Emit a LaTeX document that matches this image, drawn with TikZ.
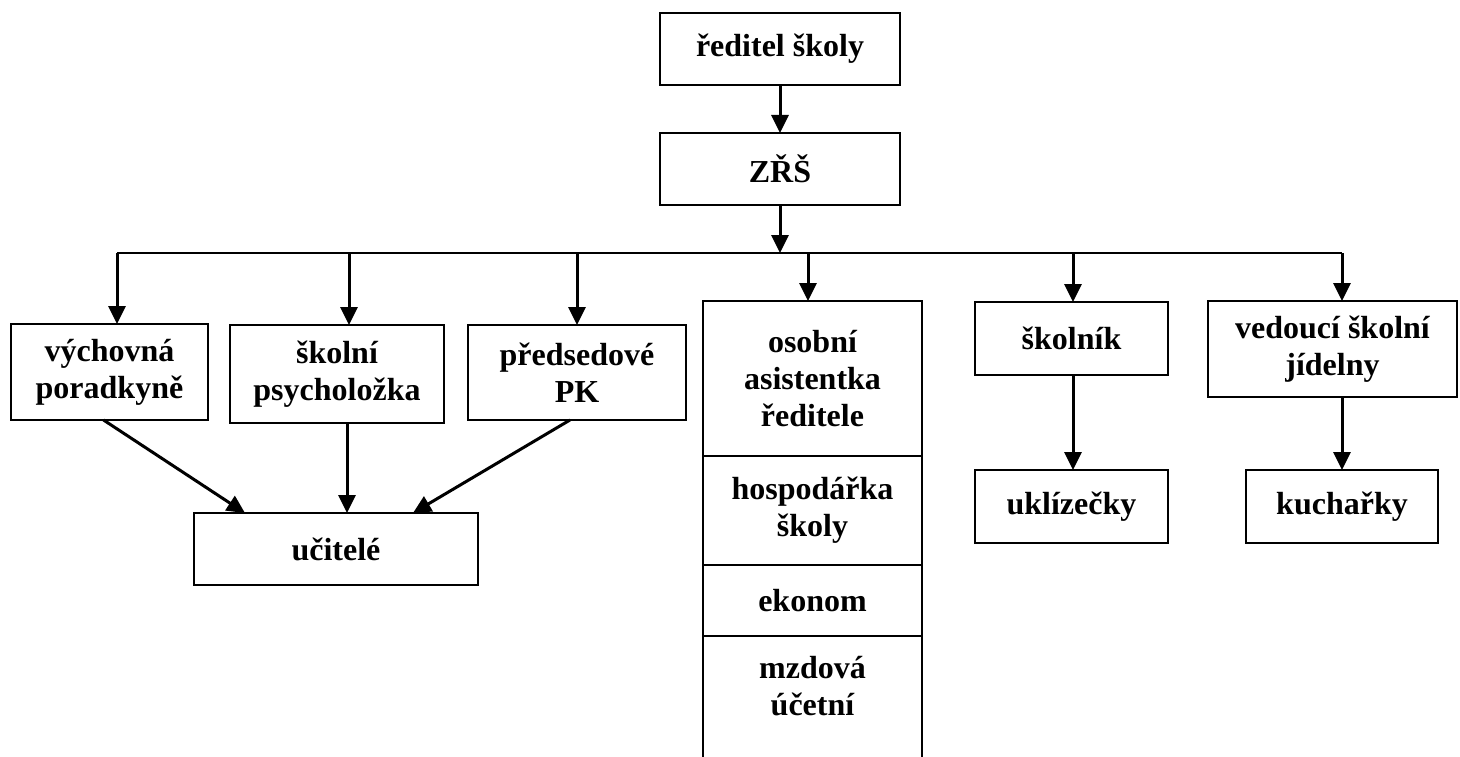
\documentclass[tikz,border=0pt]{standalone}
\usepackage{fontspec}
\setmainfont{Liberation Serif}
\usetikzlibrary{arrows.meta}
\begin{document}
\begin{tikzpicture}[x=1pt,y=-1pt,
  box/.style={draw,line width=2pt,inner sep=0pt,outer sep=0pt,align=center,
    font=\fontsize{32}{37}\selectfont\bfseries},
  lbl/.style={inner sep=0pt,align=center,font=\fontsize{32}{37}\selectfont\bfseries},
  arr/.style={line width=3pt,-{Triangle[length=18pt,width=17pt]}},
  bus/.style={line width=2.2pt}]
\useasboundingbox (0,0) rectangle (1460,757);
% boxes
\node[box,minimum width=240pt,minimum height=72pt] (dir) at (780,49) {ředitel školy};
\node[box,minimum width=240pt,minimum height=72pt] (zrs) at (780,169) {ZŘŠ};
\node[box,minimum width=197pt,minimum height=96pt] (vych) at (109.5,372) {výchovná\\poradkyně};
\node[box,minimum width=214pt,minimum height=98pt] (psych) at (337,374) {školní\\psycholožka};
\node[box,minimum width=218pt,minimum height=95pt] (pk) at (577,372.5) {předsedové\\PK};
\node[box,minimum width=219pt,minimum height=155pt] (osob) at (812.5,378.5) {osobní\\asistentka\\ředitele};
\node[box,minimum width=219pt,minimum height=109pt] (hosp) at (812.5,510.5) {hospodářka\\školy};
\node[box,minimum width=219pt,minimum height=71pt] (ekon) at (812.5,600.5) {ekonom};
\node[lbl] (mzd) at (812.5,686) {mzdová\\účetní};
\coordinate (mzdL) at (703,760);
\coordinate (mzdR) at (922,760);
\draw[line width=2pt] (mzdL) -- (ekon.south west) (ekon.south east) -- (mzdR);
\node[box,minimum width=193pt,minimum height=73pt] (skoln) at (1071.5,338.5) {školník};
\node[box,minimum width=193pt,minimum height=73pt] (ukl) at (1071.5,506.5) {uklízečky};
\node[box,minimum width=249pt,minimum height=96pt] (ved) at (1332.5,349) {vedoucí školní\\jídelny};
\node[box,minimum width=192pt,minimum height=73pt] (kuch) at (1342,506.5) {kuchařky};
\node[box,minimum width=284pt,minimum height=72pt] (ucit) at (336,549) {učitelé};
% bus
\coordinate (b0) at (780,253);
\coordinate (t1) at (117,253);
\coordinate (t2) at (349,253);
\coordinate (t3) at (577,253);
\coordinate (t4) at (808,253);
\coordinate (t5) at (1073,253);
\coordinate (t6) at (1342,253);
\draw[arr] (dir) -- (zrs);
\draw[arr] (zrs) -- (b0);
\draw[bus] (t1) -- (t6);
\draw[arr] (t1) -- (t1 |- vych.north);
\draw[arr] (t2) -- (t2 |- psych.north);
\draw[arr] (t3) -- (t3 |- pk.north);
\draw[arr] (t4) -- (t4 |- osob.north);
\draw[arr] (t5) -- (t5 |- skoln.north);
\draw[arr] (t6) -- (t6 |- ved.north);
\draw[arr] (skoln.south -| t5) -- (ukl.north -| t5);
\draw[arr] (ved.south -| t6) -- (kuch.north -| t6);
\draw[arr] ([xshift=-6pt]vych.south) -- ([xshift=-91pt]ucit.north);
\draw[arr] ([xshift=10pt]psych.south) -- ([xshift=11pt]ucit.north);
\draw[arr] ([xshift=-7pt]pk.south) -- ([xshift=77pt]ucit.north);
\end{tikzpicture}
\end{document}
